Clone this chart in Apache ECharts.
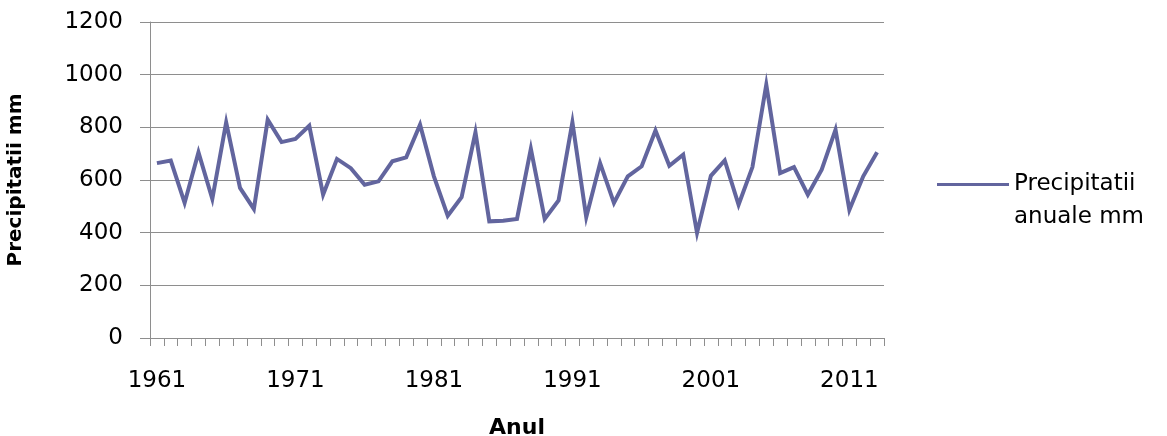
<!DOCTYPE html>
<html>
<head>
<meta charset="utf-8">
<script src="https://cdn.jsdelivr.net/npm/echarts@6/dist/echarts.min.js"></script>
<style>
  html, body { margin: 0; padding: 0; background: #fff; }
  #chart { width: 1167px; height: 436px; }
</style>
</head>
<body>
<div id="chart"></div>
<script>
// Annual precipitation, 1961-2013
const years = [
  '1961','1962','1963','1964','1965','1966','1967','1968','1969','1970',
  '1971','1972','1973','1974','1975','1976','1977','1978','1979','1980',
  '1981','1982','1983','1984','1985','1986','1987','1988','1989','1990',
  '1991','1992','1993','1994','1995','1996','1997','1998','1999','2000',
  '2001','2002','2003','2004','2005','2006','2007','2008','2009','2010',
  '2011','2012','2013'
];
const precipitation = [
  664, 674, 513, 705, 528, 819, 570, 490, 829, 744,
  756, 806, 544, 680, 645, 582, 595, 671, 686, 810,
  614, 464, 535, 781, 443, 445, 452, 718, 452, 522,
  819, 459, 664, 513, 614, 652, 788, 654, 696, 400,
  616, 674, 506, 649, 962, 626, 649, 544, 639, 791,
  487, 614, 705
];
const seriesName = 'Precipitatii\nanuale mm';
const yAxisTitle = 'Precipitatii mm';
const xAxisTitle = 'Anul';

const lineColor = '#62659e';
const gridColor = '#8e8e8e';
const labelFont = 'DejaVu Sans';

const chart = echarts.init(document.getElementById('chart'), null, { renderer: 'canvas' });
chart.setOption({
  animation: false,
  backgroundColor: '#ffffff',
  grid: { left: 150, right: 283, top: 22, bottom: 98, containLabel: false, outerBoundsMode: 'none' },
  legend: {
    data: [seriesName],
    left: 937,
    top: 135,
    padding: 0,
    orient: 'vertical',
    itemWidth: 72,
    itemHeight: 16,
    itemGap: 0,
    icon: 'path://M0,6.5 L72,6.5 L72,9.5 L0,9.5 Z',
    itemStyle: { color: lineColor },
    // blank first line keeps the first text line level with the line sample
    formatter: name => '\n' + name,
    textStyle: {
      fontFamily: labelFont,
      fontSize: 23,
      lineHeight: 33,
      color: '#000'
    }
  },
  xAxis: {
    type: 'category',
    data: years,
    boundaryGap: true,
    name: xAxisTitle,
    nameLocation: 'middle',
    nameGap: 79,
    nameTextStyle: { fontFamily: labelFont, fontWeight: 'bold', fontSize: 22, color: '#000' },
    axisLine: { lineStyle: { color: gridColor, width: 1 } },
    axisTick: { show: true, interval: 0, alignWithLabel: false, length: 8, lineStyle: { color: gridColor } },
    axisLabel: { interval: 9, margin: 32, fontFamily: labelFont, fontSize: 23, color: '#000' },
    splitLine: { show: false }
  },
  yAxis: {
    type: 'value',
    min: 0,
    max: 1200,
    interval: 200,
    name: yAxisTitle,
    nameLocation: 'middle',
    nameGap: 124,
    nameRotate: 90,
    nameTextStyle: { fontFamily: labelFont, fontWeight: 'bold', fontSize: 20, color: '#000' },
    axisLine: { show: true, lineStyle: { color: gridColor, width: 1 } },
    axisTick: { show: true, length: 10, lineStyle: { color: gridColor } },
    axisLabel: { margin: 27, fontFamily: labelFont, fontSize: 23, color: '#000', formatter: v => String(v) },
    splitLine: { show: true, lineStyle: { color: gridColor, width: 1 } }
  },
  series: [{
    name: seriesName,
    type: 'line',
    data: precipitation,
    showSymbol: false,
    symbol: 'none',
    color: lineColor,
    lineStyle: { color: lineColor, width: 4, join: 'miter' }
  }]
});
</script>
</body>
</html>
